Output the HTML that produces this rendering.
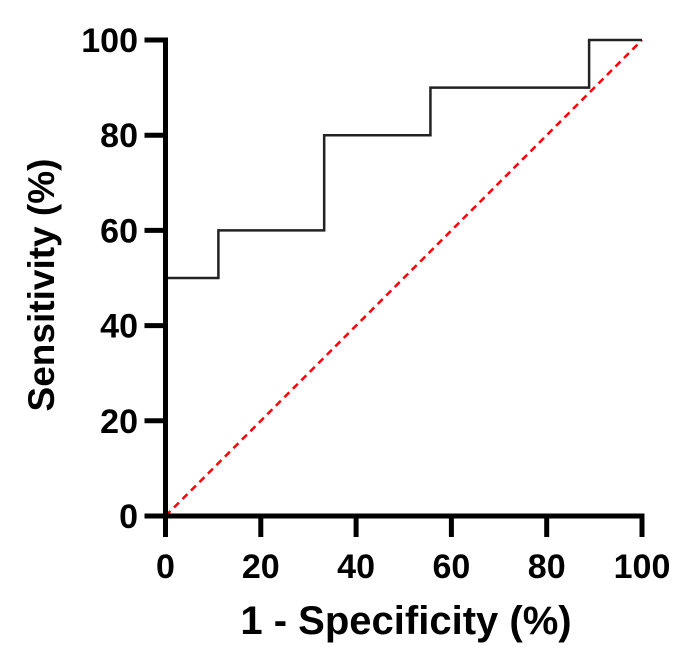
<!DOCTYPE html>
<html><head><meta charset="utf-8"><style>
body{margin:0;background:#fff;width:685px;height:667px;overflow:hidden}
text{font-family:"Liberation Sans",Arial,sans-serif;font-weight:bold;fill:#000}
</style></head><body>
<svg id="chart" width="685" height="667" viewBox="0 0 685 667"></svg>
<script>
const rocX=[0,11.1,11.1,33.3,33.3,55.6,55.6,88.9,88.9,100];
const rocY=[50,50,60,60,80,80,90,90,100,100];
const xTicks=[0,20,40,60,80,100];
const yTicks=[0,20,40,60,80,100];
const NS="http://www.w3.org/2000/svg";
const svg=document.getElementById('chart');
const X0=165.5,X1=642,Y0=516,Y1=40;
const sx=v=>X0+(X1-X0)*v/100, sy=v=>Y0-(Y0-Y1)*v/100;
function mk(t,a,p){const e=document.createElementNS(NS,t);for(const k in a)e.setAttribute(k,a[k]);(p||svg).appendChild(e);return e;}
let d=mk('line',{x1:sx(0),y1:sy(0),x2:sx(100),y2:sy(100),stroke:'#f00','stroke-width':2.5,'stroke-dasharray':'7,5'});


let pts=rocX.map((v,i)=>sx(v)+','+sy(rocY[i])).join(' ');
let r=mk('polyline',{points:pts,fill:'none',stroke:'#222','stroke-width':2.5});


let ax=mk('line',{x1:X0-2.5,y1:Y0,x2:X1+2.5,y2:Y0,stroke:'#000','stroke-width':5});


let ay=mk('line',{x1:X0,y1:Y0+2.5,x2:X0,y2:Y1-2.5,stroke:'#000','stroke-width':5});


xTicks.forEach(v=>{
  let t=mk('line',{x1:sx(v),y1:Y0,x2:sx(v),y2:Y0+21,stroke:'#000','stroke-width':5});
  
  
  let l=mk('text',{x:sx(v),y:578,'text-anchor':'middle','font-size':34});l.textContent=v;
  
  
});
yTicks.forEach(v=>{
  let t=mk('line',{x1:X0-21,y1:sy(v),x2:X0,y2:sy(v),stroke:'#000','stroke-width':5});
  
  
  let l=mk('text',{x:138,y:sy(v)+12,'text-anchor':'end','font-size':34});l.textContent=v;
  
  
});
let xt=mk('text',{x:406,y:634,'text-anchor':'middle','font-size':40});xt.textContent='1 - Specificity (%)';


let yt=mk('text',{x:0,y:0,'text-anchor':'middle','font-size':37,transform:'translate(54,285) rotate(-90)'});yt.textContent='Sensitivity (%)';


</script>
</body></html>
